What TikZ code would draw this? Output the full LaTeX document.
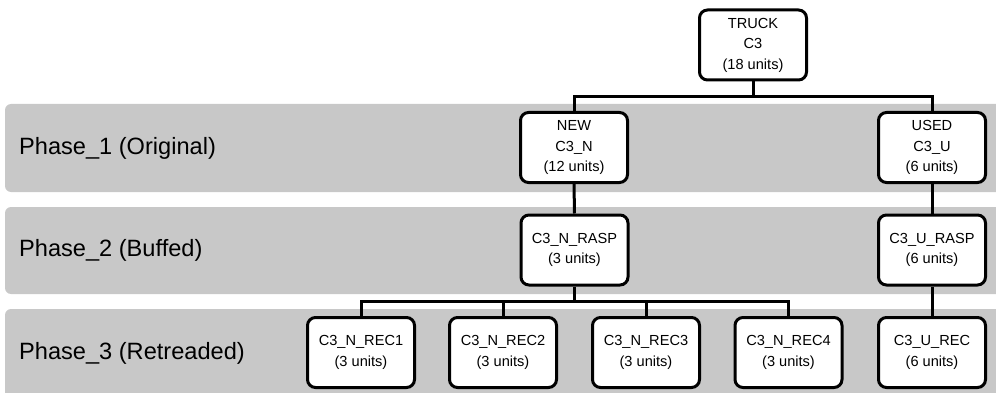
\documentclass[tikz,border=0pt]{standalone}
\usepackage{fontspec}
\setmainfont{Liberation Sans}
\definecolor{bandgray}{RGB}{200,200,200}
\begin{document}
\begin{tikzpicture}[x=1pt,y=-1pt,
  band/.style={fill=bandgray, rounded corners=6pt},
  box/.style={draw=black, line width=3pt, fill=white, rounded corners=8pt,
    minimum width=107pt, minimum height=70pt, align=center, inner sep=0pt,
    font=\fontsize{14.6}{20.5}\selectfont},
  phase/.style={anchor=west, inner sep=0pt, font=\fontsize{23.6}{28}\selectfont},
  link/.style={line width=3pt}]
\useasboundingbox (0,0) rectangle (996,393);
\clip (0,0) rectangle (996,393);
% bands
\fill[band] (5,104) rectangle (1010,192);
\fill[band] (5,207) rectangle (1010,294);
\fill[band] (5,309) rectangle (1010,400);
% phase labels
\node[phase] (p1) at (19,148) {Phase\_1 (Original)};
\node[phase] (p2) at (19,250) {Phase\_2 (Buffed)};
\node[phase] (p3) at (19,353) {Phase\_3 (Retreaded)};
% nodes
\node[box] (truck) at (753,45) {TRUCK\\C3\\(18 units)};
\node[box] (new) at (574,147.5) {NEW\\C3\_N\\(12 units)};
\node[box] (used) at (932,147.5) {USED\\C3\_U\\(6 units)};
\node[box] (nrasp) at (574.5,250) {C3\_N\_RASP\\(3 units)};
\node[box] (urasp) at (932,250) {C3\_U\_RASP\\(6 units)};
\node[box] (rec1) at (361,352.5) {C3\_N\_REC1\\(3 units)};
\node[box] (rec2) at (503,352.5) {C3\_N\_REC2\\(3 units)};
\node[box] (rec3) at (646,352.5) {C3\_N\_REC3\\(3 units)};
\node[box] (rec4) at (788.5,352.5) {C3\_N\_REC4\\(3 units)};
\node[box] (urec) at (932,352.5) {C3\_U\_REC\\(6 units)};
% connectors
\coordinate (j1) at (753,97);
\coordinate (j2) at (574.5,301);
\draw[link] (truck.south) -- (j1);
\draw[link] (j1) -| (new.north);
\draw[link] (j1) -| (used.north);
\draw[link] (new.south) -- (nrasp.north);
\draw[link] (used.south) -- (urasp.north);
\draw[link] (urasp.south) -- (urec.north);
\draw[link] (nrasp.south) -- (j2);
\draw[link] (j2) -| (rec1.north);
\draw[link] (j2) -| (rec2.north);
\draw[link] (j2) -| (rec3.north);
\draw[link] (j2) -| (rec4.north);
\end{tikzpicture}
\end{document}
